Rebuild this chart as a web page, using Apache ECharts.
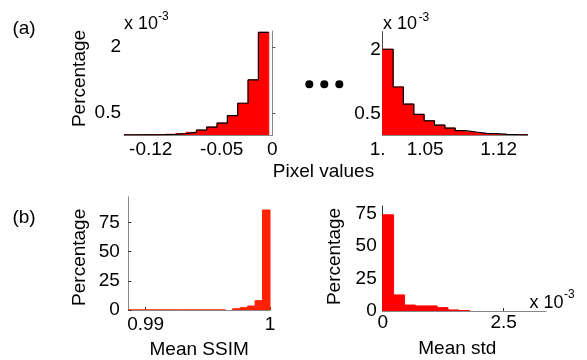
<!DOCTYPE html>
<html><head><meta charset="utf-8">
<script src="https://cdn.jsdelivr.net/npm/echarts@6/dist/echarts.min.js"></script>
<style>html,body{margin:0;padding:0;background:#fff}#c{width:587px;height:360px}</style>
</head><body><div id="c"></div>
<script>
const FONT = '"Liberation Sans", Arial, Helvetica, sans-serif';

// (a) left: histogram of negative pixel values (percentage, x 10^-3)
const negEdges = [-0.1464, -0.1362, -0.1260, -0.1158, -0.1056, -0.0954, -0.0852, -0.0750, -0.0648, -0.0546, -0.0444, -0.0342, -0.0240, -0.0138, -0.0036];
const negPct = [0.001, 0.003, 0.005, 0.01, 0.016, 0.03, 0.06, 0.11, 0.18, 0.27, 0.44, 0.72, 1.25, 2.33];
const negXTicks = [-0.12, -0.05, 0];
const pctSmallTicks = [0.5, 2];

// (a) right: histogram of pixel values above 1 (percentage, x 10^-3)
const posEdges = [1.0096, 1.0195, 1.0293, 1.0392, 1.0490, 1.0589, 1.0688, 1.0786, 1.0885, 1.0983, 1.1082, 1.1180, 1.1279, 1.1378, 1.1476];
const posPct = [2.0, 1.12, 0.72, 0.48, 0.33, 0.23, 0.16, 0.10, 0.07, 0.04, 0.03, 0.015, 0.008, 0.004];
const posXTicks = [1.0096, 1.05, 1.12];
const posXTickLabels = ['1.', '1.05', '1.12'];

// (b) left: Mean SSIM histogram (percentage)
const ssimEdges = [0.9886, 0.9892, 0.9898, 0.9904, 0.9910, 0.9916, 0.9922, 0.9928, 0.9934, 0.9940, 0.9946, 0.9952, 0.9958, 0.9964, 0.9970, 0.9976, 0.9982, 0.9988, 0.9994, 1.0000];
const ssimPct = [0.05, 0.05, 0.05, 0.05, 0.05, 0.05, 0.05, 0.05, 0.05, 0.05, 0.05, 0.05, 0.05, 0, 1.1, 2.0, 3.4, 8.0, 85.6];
const ssimXTicks = [0.99, 1];
const pctTicks = [0, 25, 50, 75];

// (b) right: Mean std histogram (percentage), x in raw units
const stdEdges = [0, 0.000225, 0.00045, 0.000675, 0.0009, 0.001125, 0.00135, 0.001575, 0.0018, 0.002025, 0.00225, 0.002475, 0.0027, 0.002925, 0.00315, 0.003375];
const stdPct = [74.2, 12.4, 4.6, 3.9, 3.9, 2.6, 0.8, 0.3, 0, 0, 0, 0, 0, 0, 0];
const stdXTicks = [0, 0.0025];

function binData(edges, vals) {
  return vals.map((v, i) => [edges[i], edges[i + 1], v]);
}
function stairData(edges, vals) {
  return edges.map((e, i) => [e, vals[Math.min(i, vals.length - 1)]]);
}
function histItem(fill, strokeOn) {
  return function (params, api) {
    const x0 = api.value(0), x1 = api.value(1), v = api.value(2);
    const p0 = api.coord([x0, v]);
    const p1 = api.coord([x1, 0]);
    return {
      type: 'rect',
      shape: { x: p0[0], y: p0[1], width: p1[0] - p0[0], height: p1[1] - p0[1] },
      style: { fill: fill, stroke: (strokeOn && v > 0) ? fill : null, lineWidth: 1 }
    };
  };
}

const lbl = (extra) => Object.assign({ fontSize: 19, color: '#000', fontFamily: FONT }, extra);
const nameStyle = (extra) => Object.assign({ fontSize: 19, color: '#000', fontFamily: FONT }, extra || {});

const chart = echarts.init(document.getElementById('c'), null, { renderer: 'canvas' });
chart.setOption({
  backgroundColor: '#fff',
  animation: false,
  grid: [
    { left: 124, top: 31, width: 148.4, height: 104, containLabel: false },
    { left: 382.7, top: 31.7, width: 145, height: 103.3, containLabel: false },
    { left: 128.3, top: 196.7, width: 141.7, height: 113.3, containLabel: false },
    { left: 382.7, top: 206, width: 163.3, height: 105, containLabel: false }
  ],
  xAxis: [
    { gridIndex: 0, type: 'value', min: negEdges[0], max: 0,
      axisLine: { show: true, onZero: false, lineStyle: { color: '#888' } },
      axisTick: { show: false }, splitLine: { show: false },
      axisLabel: lbl({ customValues: negXTicks, margin: 5, formatter: v => String(v) }) },
    { gridIndex: 1, type: 'value', min: posEdges[0], max: posEdges[posEdges.length - 1],
      axisLine: { show: true, onZero: false, lineStyle: { color: '#888' } },
      axisTick: { show: false }, splitLine: { show: false },
      axisLabel: lbl({ customValues: posXTicks, margin: 5,
        formatter: v => {
          let best = 0;
          posXTicks.forEach((t, i) => { if (Math.abs(t - v) < Math.abs(posXTicks[best] - v)) best = i; });
          return best === 0 ? '{s|' + posXTickLabels[0] + '}' : posXTickLabels[best];
        },
        rich: { s: { fontSize: 19, fontFamily: FONT, color: '#000', padding: [0, 10, 0, 0] } } }) },
    { gridIndex: 2, type: 'value', min: ssimEdges[0], max: 1,
      axisLine: { show: true, onZero: false, lineStyle: { color: '#888' } },
      axisTick: { show: true, inside: true, length: 3, customValues: ssimXTicks, lineStyle: { color: '#333' } },
      splitLine: { show: false },
      axisLabel: lbl({ customValues: ssimXTicks, margin: 5, formatter: v => String(v) }),
      name: 'Mean SSIM', nameLocation: 'middle', nameGap: 30, nameTextStyle: nameStyle() },
    { gridIndex: 3, type: 'value', min: 0, max: stdEdges[stdEdges.length - 1],
      axisLine: { show: true, onZero: false, lineStyle: { color: '#888' } },
      axisTick: { show: true, inside: true, length: 3, customValues: stdXTicks, lineStyle: { color: '#333' } },
      splitLine: { show: false },
      axisLabel: lbl({ customValues: stdXTicks, margin: 2, formatter: v => String(+(v * 1000).toFixed(3)) }),
      name: 'Mean std', nameLocation: 'middle', nameGap: 28, nameTextStyle: nameStyle({ padding: [0, 14, 0, 0] }) }
  ],
  yAxis: [
    { gridIndex: 0, type: 'value', min: 0, max: 2.36,
      axisLine: { show: true, lineStyle: { color: '#888' } },
      axisTick: { show: true, inside: true, length: 3, customValues: pctSmallTicks, lineStyle: { color: '#555' } },
      splitLine: { show: false },
      axisLabel: lbl({ customValues: pctSmallTicks, margin: 3, formatter: v => String(v) }),
      name: 'Percentage', nameLocation: 'middle', nameGap: 35, nameTextStyle: nameStyle({ padding: [0, 0, 0, 9] }) },
    { gridIndex: 1, type: 'value', min: 0, max: 2.41,
      axisLine: { show: true, lineStyle: { color: '#444' } },
      axisTick: { show: true, inside: true, length: 3, customValues: pctSmallTicks, lineStyle: { color: '#555' } },
      splitLine: { show: false },
      axisLabel: lbl({ customValues: pctSmallTicks, margin: 2, formatter: v => String(v) }) },
    { gridIndex: 2, type: 'value', min: 0, max: 97,
      axisLine: { show: true, lineStyle: { color: '#888' } },
      axisTick: { show: true, inside: true, length: 3, customValues: pctTicks, lineStyle: { color: '#333' } },
      splitLine: { show: false },
      axisLabel: lbl({ customValues: pctTicks, margin: 8.5, formatter: v => String(v) }),
      name: 'Percentage', nameLocation: 'middle', nameGap: 39, nameTextStyle: nameStyle({ padding: [0, 8, 0, 0] }) },
    { gridIndex: 3, type: 'value', min: 0, max: 81,
      axisLine: { show: true, lineStyle: { color: '#333' } },
      axisTick: { show: false },
      splitLine: { show: false },
      axisLabel: lbl({ customValues: pctTicks, margin: 6, formatter: v => String(v) }),
      name: 'Percentage', nameLocation: 'middle', nameGap: 38, nameTextStyle: nameStyle({ padding: [0, 0, 0, 4] }) }
  ],
  series: [
    { type: 'custom', xAxisIndex: 0, yAxisIndex: 0, renderItem: histItem('#ff0000', true),
      encode: { x: [0, 1], y: 2 }, data: binData(negEdges, negPct), clip: true },
    { type: 'line', xAxisIndex: 0, yAxisIndex: 0, step: 'end', symbol: 'none',
      lineStyle: { color: '#000', width: 1.2 }, data: stairData(negEdges, negPct), z: 3 },
    { type: 'custom', xAxisIndex: 1, yAxisIndex: 1, renderItem: histItem('#ff0000', true),
      encode: { x: [0, 1], y: 2 }, data: binData(posEdges, posPct), clip: true },
    { type: 'line', xAxisIndex: 1, yAxisIndex: 1, step: 'end', symbol: 'none',
      lineStyle: { color: '#000', width: 1.2 }, data: stairData(posEdges, posPct), z: 3 },
    { type: 'custom', xAxisIndex: 2, yAxisIndex: 2, renderItem: histItem('#ff2200', true),
      encode: { x: [0, 1], y: 2 }, data: binData(ssimEdges, ssimPct), clip: true, z: 3 },
    { type: 'custom', xAxisIndex: 3, yAxisIndex: 3, renderItem: histItem('#ff0000', true),
      encode: { x: [0, 1], y: 2 }, data: binData(stdEdges, stdPct), clip: true, z: 3 }
  ],
  graphic: [
    { type: 'text', x: 24, y: 28.5, style: { text: '(a)', font: '19px ' + FONT, fill: '#000', align: 'center', verticalAlign: 'middle' } },
    { type: 'text', x: 24, y: 217.5, style: { text: '(b)', font: '19px ' + FONT, fill: '#000', align: 'center', verticalAlign: 'middle' } },
    { type: 'text', x: 323.5, y: 172, style: { text: 'Pixel values', font: '19px ' + FONT, fill: '#000', align: 'center', verticalAlign: 'middle' } },
    { type: 'text', x: 124, y: 23.7, style: { text: 'x 10', font: '18px ' + FONT, fill: '#000', align: 'left', verticalAlign: 'middle' } },
    { type: 'text', x: 158, y: 17, style: { text: '-3', font: '12px ' + FONT, fill: '#000', align: 'left', verticalAlign: 'middle' } },
    { type: 'text', x: 383, y: 23.7, style: { text: 'x 10', font: '18px ' + FONT, fill: '#000', align: 'left', verticalAlign: 'middle' } },
    { type: 'text', x: 418.5, y: 17.5, style: { text: '-3', font: '12px ' + FONT, fill: '#000', align: 'left', verticalAlign: 'middle' } },
    { type: 'text', x: 529.5, y: 303, style: { text: 'x 10', font: '18px ' + FONT, fill: '#000', align: 'left', verticalAlign: 'middle' } },
    { type: 'text', x: 564, y: 295, style: { text: '-3', font: '12px ' + FONT, fill: '#000', align: 'left', verticalAlign: 'middle' } },
    { type: 'circle', shape: { cx: 309.3, cy: 84.3, r: 4 }, style: { fill: '#000' } },
    { type: 'circle', shape: { cx: 324.3, cy: 84.3, r: 4 }, style: { fill: '#000' } },
    { type: 'circle', shape: { cx: 339.3, cy: 84.3, r: 4 }, style: { fill: '#000' } }
  ]
});
</script>
</body></html>
